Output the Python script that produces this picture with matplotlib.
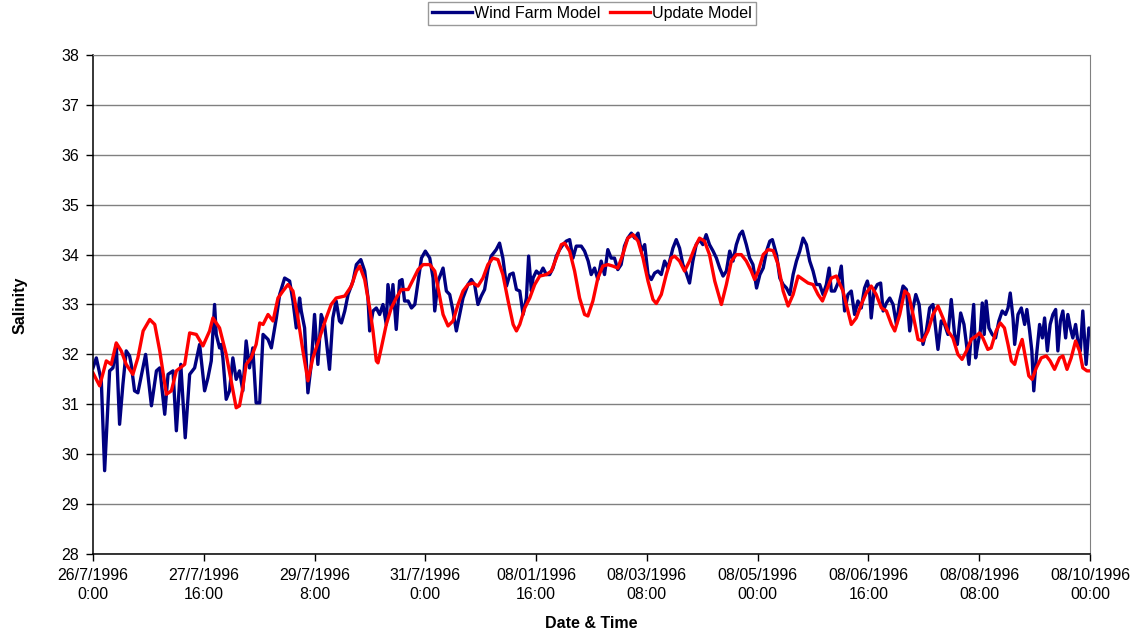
import matplotlib
matplotlib.use("Agg")
import matplotlib.pyplot as plt
import numpy as np

plt.rcParams['font.family'] = ['Liberation Sans', 'DejaVu Sans']

# hours since 26/7/1996 0:00
wf_hours = [0, 1.2, 3.0, 4.2, 6.0, 7.2, 8.4, 9.6, 10.8, 12.0, 13.2, 13.8, 15.0, 16.2, 19.0, 21.1,
            22.9, 24.1, 25.9, 27.1, 28.9, 30.1, 31.7, 33.3, 34.9, 36.7, 38.5, 40.3, 41.5, 42.7, 43.9,
            44.5, 45.7, 46.3, 46.9, 48.1, 49.3, 50.5, 51.7, 52.9, 54.1, 55.3, 56.5, 57.7, 58.9, 60.2,
            61.4, 63.2, 64.4, 66.2, 67.4, 69.2, 71.0, 72.2, 73.4, 74.6, 75.2, 76.4, 77.6, 78.8, 80.0,
            81.2, 82.4, 83.6, 85.4, 86.6, 87.8, 89.0,
            89.7, 90.9, 92.1, 93.9, 95.1, 96.7, 98.1, 99.3, 99.9, 101.1, 102.3, 103.5, 104.7, 105.9,
            106.5, 107.7, 108.3, 109.5, 110.7, 111.6, 112.5, 113.8, 115.0, 116.2, 117.4, 118.6, 120.0,
            121.6, 122.8, 123.4, 124.6, 126.4, 127.6, 128.8, 130.0, 131.2, 132.4, 133.6, 135.4,
            136.6, 137.8, 139.0, 140.2, 141.4, 142.6, 143.8, 145.6, 146.8, 148.0, 149.3, 150.5, 151.7,
            152.9, 154.1, 155.3, 156.5, 157.3, 158.3, 158.9, 160.1, 161.3, 162.5, 163.7, 164.9, 166.1,
            167.3, 168.5, 169.7, 170.9, 172.1, 173.3, 174.5, 176.3, 177.5, 178.8,
            179.9, 181.1, 182.3, 183.5, 184.7, 185.9, 187.1, 188.3, 189.5, 190.7, 191.9, 193.1, 194.4,
            195.6, 196.8, 198.0, 199.2, 200.4, 201.6, 202.8, 204.0, 205.2, 206.4, 207.6, 209.4, 210.6,
            211.8, 213.0, 214.2, 215.4, 216.6, 217.8, 219.0, 220.2, 221.4, 222.6, 223.9,
            225.1, 226.3, 227.5, 228.7, 229.9, 231.1, 232.3, 233.5, 234.5, 235.9, 237.1, 238.3, 239.6,
            240.8, 242.0, 243.2, 244.4, 245.3, 246.8, 248.0, 249.2, 250.4, 251.6, 252.8, 254.0, 255.2,
            256.4, 257.6, 258.8, 260.0, 261.2, 262.4, 263.6, 264.8, 265.8, 266.6, 267.8, 269.0,
            270.2, 271.4, 272.6, 273.8, 275.0, 276.2, 277.4, 278.6, 279.6, 280.4, 281.0, 282.0, 283.2,
            284.4, 285.3, 286.5, 287.7, 288.9, 290.1, 291.3, 292.5, 293.7, 294.9, 296.1, 297.1, 298.3,
            299.7, 300.9, 302.1, 303.3, 304.5, 305.1, 306.3, 307.5, 308.7, 309.9, 311.1, 312.1, 313.3,
            314.5,
            316.3, 317.1, 318.0, 318.7, 319.5, 320.4, 321.1, 321.8, 322.5, 323.5, 324.7, 325.9, 327.1,
            328.3, 329.5, 330.4, 331.2, 332.2, 332.8, 334.0, 335.2, 336.4, 337.2, 338.2, 339.0, 339.7,
            340.6, 341.8, 342.8, 343.6, 344.6, 345.6, 346.6, 347.6, 348.4, 349.3, 350.2, 351.2, 352.0,
            352.9, 353.8, 354.8, 355.6, 356.5, 357.4, 358.6, 359.6, 360.0]
wf_salinity = [31.73, 31.93, 31.47, 29.67, 31.67, 31.73, 32.2, 30.6, 31.4, 32.07, 31.97, 31.8, 31.27, 31.23, 32.0, 30.97,
               31.67, 31.73, 30.8, 31.6, 31.67, 30.47, 31.8, 30.33, 31.6, 31.73, 32.2, 31.27, 31.53, 31.87, 33.0,
               32.4, 32.13, 32.2, 31.93, 31.1, 31.27, 31.93, 31.5, 31.67, 31.27, 32.27, 31.73, 32.13, 31.03, 31.03,
               32.4, 32.3, 32.13, 32.73, 33.2, 33.53, 33.47, 33.07, 32.53, 33.13, 32.87, 32.53, 31.23, 31.8, 32.8,
               31.8, 32.8, 32.6, 31.7, 32.73, 33.07, 32.67,
               32.63, 32.87, 33.2, 33.47, 33.8, 33.9, 33.67, 33.13, 32.47, 32.87, 32.93, 32.8, 33.0, 32.6,
               33.4, 32.93, 33.4, 32.5, 33.47, 33.5, 33.07, 33.07, 32.93, 33.0, 33.47, 33.93, 34.07,
               33.93, 33.53, 32.87, 33.47, 33.73, 33.27, 33.2, 32.87, 32.47, 32.8, 33.13, 33.4,
               33.5, 33.4, 33.0, 33.17, 33.3, 33.7, 33.97, 34.1, 34.23, 33.93, 33.37, 33.6, 33.63,
               33.3, 33.27, 32.8, 33.13, 33.97, 33.27, 33.53, 33.67, 33.6, 33.73, 33.6, 33.6, 33.73,
               33.97, 34.1, 34.2, 34.27, 34.3, 33.93, 34.17, 34.17, 34.07, 33.87,
               33.6, 33.73, 33.5, 33.87, 33.6, 34.1, 33.93, 33.93, 33.7, 33.8, 34.17, 34.33, 34.43,
               34.33, 34.43, 34.07, 34.2, 33.6, 33.5, 33.63, 33.67, 33.6, 33.87, 33.73, 34.13, 34.3,
               34.13, 33.8, 33.63, 33.43, 33.87, 34.2, 34.3, 34.2, 34.4, 34.2, 34.07,
               33.93, 33.73, 33.57, 33.67, 34.07, 33.87, 34.2, 34.4, 34.47, 34.2, 33.93, 33.8, 33.33,
               33.6, 33.73, 34.07, 34.27, 34.3, 34.0, 33.53, 33.4, 33.33, 33.2, 33.6, 33.87, 34.07,
               34.33, 34.2, 33.87, 33.67, 33.4, 33.4, 33.2, 33.4, 33.73, 33.27, 33.27, 33.43,
               33.77, 32.87, 33.2, 33.27, 32.8, 33.07, 32.93, 33.33, 33.47, 33.27, 32.73, 33.27, 33.4,
               33.43, 32.87, 33.03, 33.13, 33.0, 32.6, 33.07, 33.37, 33.3, 32.47, 32.93, 33.2, 33.0,
               32.2, 32.47, 32.93, 33.0, 32.4, 32.1, 32.67, 32.6, 32.4, 33.1, 32.4, 32.2, 32.83,
               32.6,
               31.8, 32.4, 33.0, 31.93, 32.2, 32.47, 33.03, 32.4, 33.07, 32.53, 32.4, 32.33, 32.67,
               32.87, 32.8, 32.93, 33.23, 32.73, 32.2, 32.8, 32.93, 32.6, 32.9, 32.47, 32.07, 31.27,
               31.93, 32.6, 32.33, 32.73, 32.07, 32.6, 32.8, 32.9, 32.07, 32.67, 32.87, 32.33, 32.8,
               32.53, 32.33, 32.6, 32.27, 32.07, 32.87, 31.8, 32.53, 32.5]

um_hours = [0, 2.4, 4.8, 6.6, 8.4, 10.2, 12.0, 14.4, 16.2, 18.1, 20.5, 22.3, 24.1, 26.5, 28.3, 30.1,
            33.1, 34.9, 37.3, 39.7, 42.1,
            43.3, 45.7, 48.1, 49.9, 51.7, 52.9, 54.1, 55.3, 57.1, 58.9, 60.2, 61.4, 63.2, 65.0, 66.8,
            68.6, 70.4, 72.2, 74.0, 75.8, 77.6, 79.4, 81.8, 84.2, 86.0, 87.8,
            90.9, 93.3, 95.1, 96.3, 98.1, 99.9, 101.1, 102.3, 102.9, 104.1, 105.9, 107.7, 109.5, 111.3,
            113.8, 115.6, 117.4, 119.2, 121.6, 123.4, 124.6, 126.4, 128.2, 130.0, 131.8, 133.6,
            135.4, 137.2, 139.0, 140.8, 142.6, 144.4, 146.2, 148.0, 149.9, 151.7, 152.9, 154.1, 155.9,
            157.7, 159.5, 161.3, 163.7, 165.5, 167.3, 169.1, 170.3, 172.1, 173.9, 175.7, 177.5,
            178.7, 180.5, 182.3, 184.1, 185.9, 187.7, 189.5, 191.3, 193.1, 195.0, 196.8, 198.6, 200.4,
            202.2, 203.4, 205.2, 207.0, 208.8, 210.0, 211.8, 213.6, 215.4, 217.2, 219.0, 220.8, 222.6,
            224.5,
            226.9, 228.7, 230.5, 232.3, 234.1, 235.9, 237.7, 238.9, 240.2, 242.0, 243.8, 245.6, 247.4,
            249.2, 251.0, 252.8, 254.6, 256.4, 258.2, 260.0, 261.8, 263.4, 264.8, 266.6, 268.4,
            270.8, 272.6, 273.8, 275.6, 277.4, 279.2, 281.0, 282.8, 284.7, 286.5, 288.3, 289.5, 291.3,
            293.1, 294.5, 296.1, 297.9, 299.7, 301.5, 303.3, 305.1, 306.9, 308.7, 310.5, 312.3, 313.8,
            315.4,
            317.1, 318.9, 320.1, 321.3, 323.1, 324.3, 326.1, 327.6, 329.1, 330.4, 331.6, 332.8, 334.0,
            335.5, 336.7, 337.9, 339.1, 340.6, 342.4, 344.2, 345.6, 347.2, 349.0, 350.2, 351.7, 353.2,
            354.8, 356.2, 357.4, 358.9, 360.0]
um_salinity = [31.63, 31.37, 31.87, 31.8, 32.23, 32.07, 31.8, 31.6, 31.93, 32.47, 32.7, 32.6, 32.07, 31.2, 31.27, 31.67,
               31.8, 32.43, 32.4, 32.17, 32.47,
               32.73, 32.53, 32.0, 31.47, 30.93, 30.97, 31.33, 31.8, 31.93, 32.2, 32.63, 32.6, 32.8, 32.67, 33.13,
               33.27, 33.4, 33.27, 32.73, 32.07, 31.47, 31.93, 32.33, 32.73, 33.0, 33.13,
               33.17, 33.37, 33.67, 33.77, 33.5, 32.93, 32.47, 31.87, 31.83, 32.13, 32.6, 32.93, 33.13, 33.3,
               33.3, 33.5, 33.7, 33.8, 33.8, 33.67, 33.33, 32.8, 32.57, 32.67, 33.0, 33.27,
               33.4, 33.43, 33.37, 33.53, 33.8, 33.93, 33.9, 33.6, 33.07, 32.6, 32.47, 32.6, 32.93,
               33.13, 33.4, 33.57, 33.6, 33.67, 33.93, 34.2, 34.23, 34.07, 33.67, 33.13, 32.8,
               32.77, 33.07, 33.53, 33.77, 33.8, 33.77, 33.73, 34.0, 34.33, 34.4, 34.27, 33.93, 33.47,
               33.1, 33.02, 33.2, 33.6, 33.93, 33.97, 33.87, 33.67, 33.87, 34.13, 34.33, 34.27, 34.0,
               33.47,
               33.0, 33.4, 33.87, 34.0, 34.0, 33.87, 33.67, 33.5, 33.67, 34.0, 34.1, 34.08, 33.8,
               33.27, 32.97, 33.2, 33.57, 33.5, 33.43, 33.4, 33.2, 33.07, 33.27, 33.53, 33.57,
               33.27, 32.87, 32.6, 32.73, 33.0, 33.23, 33.37, 33.2, 32.93, 32.87, 32.6, 32.47, 32.8,
               33.27, 33.2, 32.8, 32.3, 32.27, 32.47, 32.8, 32.97, 32.73, 32.47, 32.33, 32.0, 31.9,
               32.07,
               32.3, 32.37, 32.43, 32.33, 32.1, 32.13, 32.47, 32.63, 32.53, 32.2, 31.87, 31.8, 32.07,
               32.3, 31.93, 31.57, 31.5, 31.73, 31.93, 31.97, 31.87, 31.7, 31.93, 31.97, 31.7, 31.93,
               32.27, 32.07, 31.73, 31.67, 31.67]

tick_hours = [0, 40, 80, 120, 160, 200, 240, 280, 320, 360]
tick_labels = ['26/7/1996\n0:00', '27/7/1996\n16:00', '29/7/1996\n8:00', '31/7/1996\n0:00',
               '08/01/1996\n16:00', '08/03/1996\n08:00', '08/05/1996\n00:00', '08/06/1996\n16:00',
               '08/08/1996\n08:00', '08/10/1996\n00:00']

fig = plt.figure(figsize=(11.43, 6.36), dpi=100)
ax = fig.add_axes([93/1143, 1-554/636, (1090-93)/1143, (554-55)/636])

ax.plot(wf_hours, wf_salinity, color='#000080', linewidth=2.4, solid_joinstyle='round',
        label='Wind Farm Model')
ax.plot(um_hours, um_salinity, color='#ff0000', linewidth=2.4, solid_joinstyle='round',
        label='Update Model')

ax.set_xlim(0, 360)
ax.set_ylim(28, 38)
ax.set_yticks(np.arange(28, 39, 1))
ax.set_xticks(tick_hours)
ax.set_xticklabels(tick_labels, linespacing=1.35)
ax.tick_params(axis='both', direction='out', length=5, width=1, labelsize=11.5, colors='black')
ax.tick_params(axis='y', pad=5)
ax.tick_params(axis='x', pad=5)

ax.grid(axis='y', color='#808080', linewidth=1.0)
ax.set_axisbelow(True)
for side in ['top', 'right']:
    ax.spines[side].set_color('#808080')
for side in ['left', 'bottom']:
    ax.spines[side].set_color('black')
    ax.spines[side].set_linewidth(1.1)

fig.text(20/1143, 1-305/636, 'Salinity', rotation=90, ha='center', va='center',
         fontsize=11.5, fontweight='bold')
fig.text(591/1143, 1-624/636, 'Date & Time', ha='center', va='center',
         fontsize=11.5, fontweight='bold')

leg = fig.legend(loc='upper center', bbox_to_anchor=(592/1143, 1-2/636), ncol=2, fontsize=11.5,
                 frameon=True, fancybox=False, edgecolor='#808080', handlelength=2.5,
                 handletextpad=0.15, columnspacing=0.6, borderpad=0.25, borderaxespad=0)
leg.get_frame().set_linewidth(1.0)

plt.savefig('out.png', dpi=100)
